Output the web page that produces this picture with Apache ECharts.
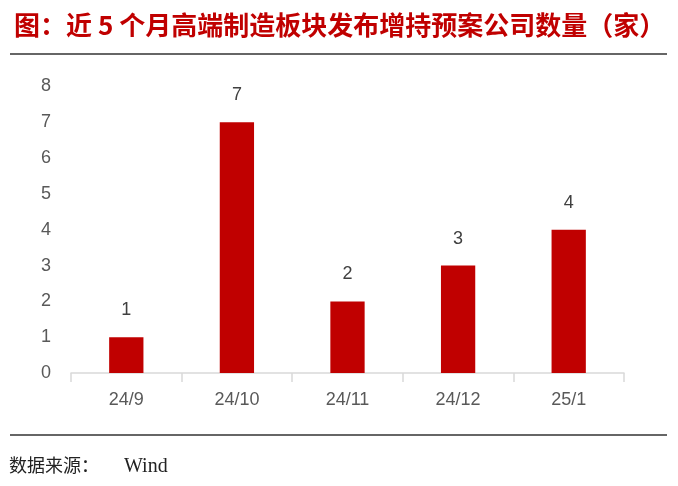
<!DOCTYPE html>
<html>
<head>
<meta charset="utf-8">
<script src="https://cdn.jsdelivr.net/npm/echarts@6/dist/echarts.min.js"></script>
<style>
  html, body { margin: 0; padding: 0; background: #fff; }
  #chart { width: 678px; height: 486px; }
</style>
</head>
<body>
<div id="chart"></div>
<script>
// Monthly count of high-end manufacturing companies announcing shareholding increase plans
const months = ['24/9', '24/10', '24/11', '24/12', '25/1'];
const companyCounts = [1, 7, 2, 3, 4];
const yTicks = { min: 0, max: 8, interval: 1 };

const chart = echarts.init(document.getElementById('chart'));
chart.setOption({
  backgroundColor: '#ffffff',
  animation: false,
  title: {
    text: '图：近 5 个月高端制造板块发布增持预案公司数量（家）',
    left: 9,
    top: 7,
    textStyle: {
      color: '#c00000',
      fontSize: 26,
      fontWeight: 'bold',
      fontFamily: '"Noto Sans CJK SC", sans-serif'
    }
  },
  grid: { left: 71, right: 54, top: 86.5, bottom: 113 },
  xAxis: {
    type: 'category',
    data: months,
    boundaryGap: true,
    axisLine: { lineStyle: { color: '#d9d9d9', width: 1.5 } },
    axisTick: { show: true, length: 9, lineStyle: { color: '#d9d9d9', width: 1.5 } },
    axisLabel: {
      margin: 18,
      color: '#595959',
      fontSize: 18,
      fontFamily: '"Liberation Sans", Arial, sans-serif'
    }
  },
  yAxis: {
    type: 'value',
    min: yTicks.min,
    max: yTicks.max,
    interval: yTicks.interval,
    axisLine: { show: false },
    axisTick: { show: false },
    splitLine: { show: false },
    axisLabel: {
      margin: 20,
      color: '#595959',
      fontSize: 18,
      fontFamily: '"Liberation Sans", Arial, sans-serif'
    }
  },
  series: [{
    type: 'bar',
    data: companyCounts,
    barWidth: '31%',
    itemStyle: { color: '#c00000' },
    label: {
      show: true,
      position: 'top',
      distance: 18,
      color: '#404040',
      fontSize: 18,
      fontFamily: '"Liberation Sans", Arial, sans-serif'
    }
  }],
  graphic: [
    {
      type: 'line',
      shape: { x1: 10, y1: 54, x2: 667, y2: 54 },
      style: { stroke: '#333333', lineWidth: 1.5 }
    },
    {
      type: 'line',
      shape: { x1: 10, y1: 435, x2: 667, y2: 435 },
      style: { stroke: '#333333', lineWidth: 1.5 }
    },
    {
      type: 'text',
      left: 9,
      top: 456,
      style: {
        text: '数据来源：',
        fill: '#222222',
        fontSize: 18,
        fontFamily: '"Noto Sans CJK SC", sans-serif'
      }
    },
    {
      type: 'text',
      left: 124,
      top: 457,
      style: {
        text: 'Wind',
        fill: '#222222',
        fontSize: 20,
        fontFamily: '"Liberation Serif", serif'
      }
    }
  ]
});
</script>
</body>
</html>
